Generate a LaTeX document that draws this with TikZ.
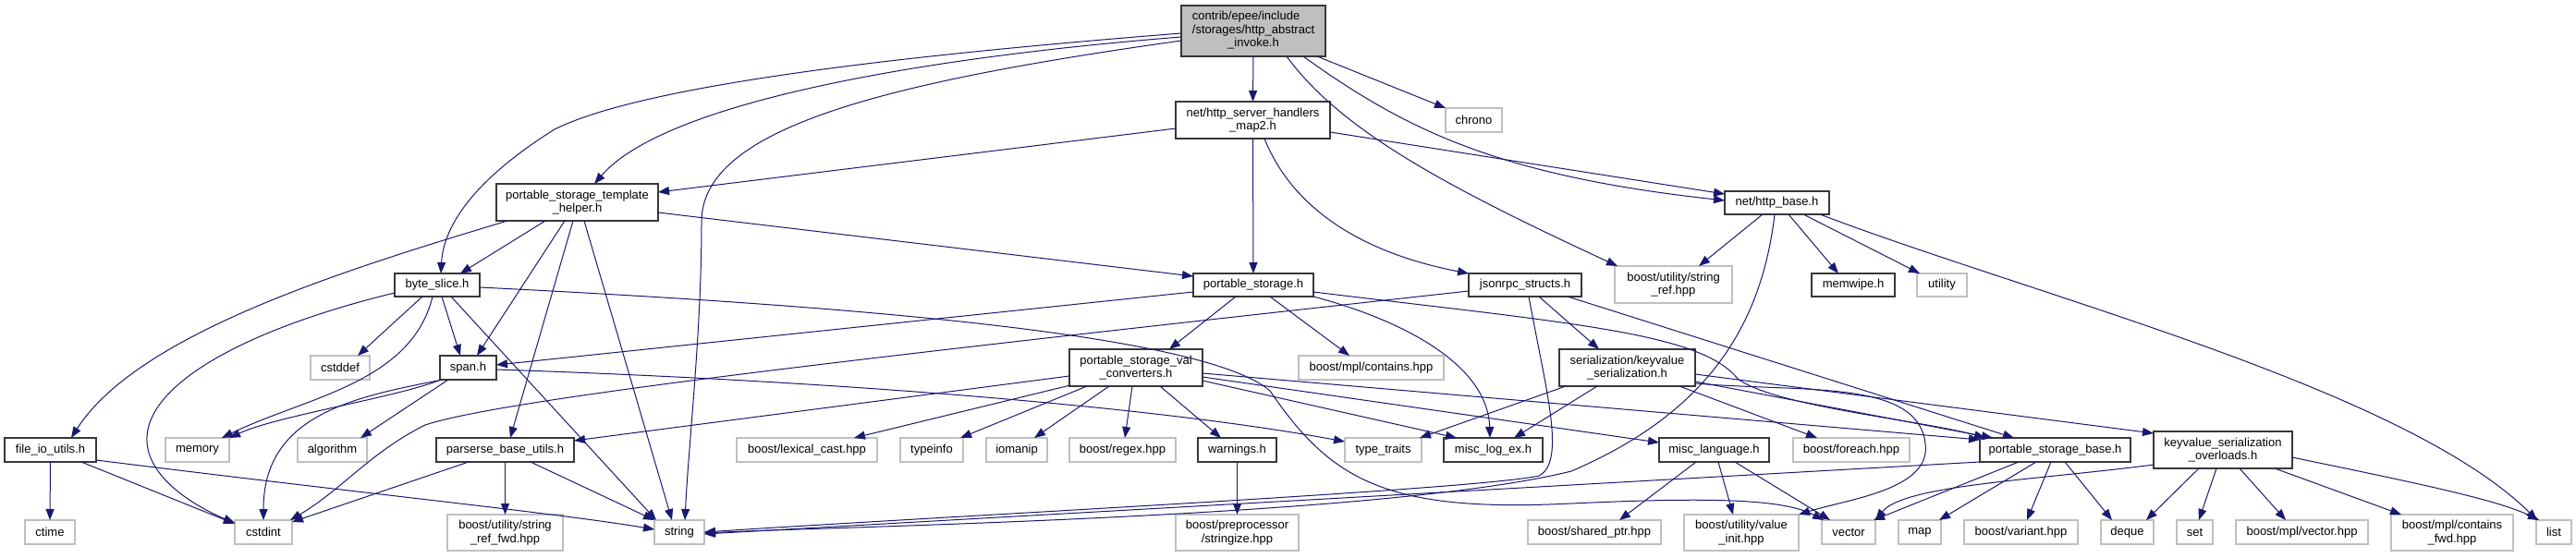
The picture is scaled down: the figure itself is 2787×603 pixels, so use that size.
\documentclass[tikz,border=0pt]{standalone}
\usepackage{fontspec}
\setmainfont{Liberation Sans}
\usetikzlibrary{arrows.meta,calc}
\definecolor{edgeblue}{HTML}{191970}
\definecolor{greyline}{HTML}{BFBFBF}
\definecolor{rootfill}{HTML}{BFBFBF}
\tikzset{
  lbl/.style={font=\fontsize{13}{14.5}\selectfont, inner sep=0pt, outer sep=0pt, align=center, rectangle},
  proj/.style={lbl, draw=black!78, fill=white, line width=1.5pt},
  sysh/.style={lbl, draw=greyline, fill=white, line width=1.3pt},
  rootbox/.style={lbl, draw=black!78, fill=rootfill, line width=1.5pt},
  dep/.style={draw=edgeblue, line width=1pt, -{Triangle[length=12pt,width=9pt]}},
}
\newcommand{\bxnode}[7]{%
  \pgfmathsetmacro{\bxcx}{(#2+#4)/2}\pgfmathsetmacro{\bxcy}{(#3+#5)/2}%
  \pgfmathsetmacro{\bxw}{#4-#2}\pgfmathsetmacro{\bxh}{#5-#3}%
  \node[#6, minimum width=\bxw pt, minimum height=\bxh pt] (#1) at (\bxcx,\bxcy) {#7};}
\begin{document}
\begin{tikzpicture}[x=1pt,y=-1pt]
\useasboundingbox[fill=white] (0,0) rectangle (2787,603);
% ---- nodes ----
\bxnode{root}{1278}{6}{1434}{61}{rootbox}{\begin{tabular}{@{}l@{}}contrib/epee/include\\/storages/http\_abstract\\\multicolumn{1}{@{}c@{}}{\_invoke.h}\end{tabular}}
\bxnode{handlers}{1272}{110}{1439}{150}{proj}{net/http\_server\_handlers\\\_map2.h}
\bxnode{chrono}{1564}{117}{1625}{143}{sysh}{chrono}
\bxnode{template}{537}{199}{712}{239}{proj}{portable\_storage\_template\\\_helper.h}
\bxnode{httpbase}{1866}{207}{1979}{232}{proj}{net/http\_base.h}
\bxnode{byteslice}{427}{296}{519}{321}{proj}{byte\_slice.h}
\bxnode{pstore}{1291}{296}{1421}{321}{proj}{portable\_storage.h}
\bxnode{jsonrpc}{1589}{296}{1711}{321}{proj}{jsonrpc\_structs.h}
\bxnode{stringref}{1747}{288}{1874}{328}{sysh}{boost/utility/string\\\_ref.hpp}
\bxnode{memwipe}{1960}{296}{2050}{321}{proj}{memwipe.h}
\bxnode{utility}{2074}{296}{2128}{321}{sysh}{utility}
\bxnode{cstddef}{336}{385}{400}{411}{sysh}{cstddef}
\bxnode{span}{476}{385}{537}{411}{proj}{span.h}
\bxnode{valconv}{1157}{378}{1301}{418}{proj}{portable\_storage\_val\\\_converters.h}
\bxnode{mplcontains}{1405}{385}{1562}{411}{sysh}{boost/mpl/contains.hpp}
\bxnode{kvser}{1687}{378}{1834}{418}{proj}{serialization/keyvalue\\\_serialization.h}
\bxnode{fileio}{5}{474}{104}{500}{proj}{file\_io\_utils.h}
\bxnode{memory}{179}{474}{248}{500}{sysh}{memory}
\bxnode{algorithm}{322}{474}{397}{500}{sysh}{algorithm}
\bxnode{parserse}{472}{474}{621}{500}{proj}{parserse\_base\_utils.h}
\bxnode{lexical}{797}{474}{949}{500}{sysh}{boost/lexical\_cast.hpp}
\bxnode{typeinfo}{974}{474}{1042}{500}{sysh}{typeinfo}
\bxnode{iomanip}{1067}{474}{1133}{500}{sysh}{iomanip}
\bxnode{regex}{1157}{474}{1272}{500}{sysh}{boost/regex.hpp}
\bxnode{warnings}{1296}{474}{1381}{500}{proj}{warnings.h}
\bxnode{typetraits}{1455}{474}{1538}{500}{sysh}{type\_traits}
\bxnode{misclog}{1562}{474}{1669}{500}{proj}{misc\_log\_ex.h}
\bxnode{misclang}{1795}{474}{1914}{500}{proj}{misc\_language.h}
\bxnode{foreach}{1940}{474}{2066}{500}{sysh}{boost/foreach.hpp}
\bxnode{psbase}{2142}{474}{2305}{500}{proj}{portable\_storage\_base.h}
\bxnode{kvover}{2330}{467}{2480}{507}{proj}{keyvalue\_serialization\\\_overloads.h}
\bxnode{ctime}{27}{563}{81}{589}{sysh}{ctime}
\bxnode{cstdint}{254}{563}{316}{589}{sysh}{cstdint}
\bxnode{reffwd}{484}{557}{609}{596}{sysh}{boost/utility/string\\\_ref\_fwd.hpp}
\bxnode{string}{708}{563}{762}{589}{sysh}{string}
\bxnode{stringize}{1272}{557}{1405}{596}{sysh}{boost/preprocessor\\/stringize.hpp}
\bxnode{sharedptr}{1653}{563}{1797}{589}{sysh}{boost/shared\_ptr.hpp}
\bxnode{valueinit}{1822}{557}{1946}{596}{sysh}{boost/utility/value\\\_init.hpp}
\bxnode{vector}{1971}{563}{2029}{589}{sysh}{vector}
\bxnode{map}{2054}{563}{2100}{589}{sysh}{map}
\bxnode{variant}{2125}{563}{2248}{589}{sysh}{boost/variant.hpp}
\bxnode{deque}{2273}{563}{2330}{589}{sysh}{deque}
\bxnode{set}{2355}{563}{2394}{589}{sysh}{set}
\bxnode{mplvector}{2419}{563}{2562}{589}{sysh}{boost/mpl/vector.hpp}
\bxnode{containsfwd}{2587}{557}{2719}{596}{sysh}{boost/mpl/contains\\\_fwd.hpp}
\bxnode{list}{2744}{563}{2782}{589}{sysh}{list}
% ---- edges: root ----
\draw[dep] (root.south) -- (handlers.north);
\draw[dep] ($(root.north west)+(147,55)$) -- (chrono.north west);
\draw[dep] ($(root.north west)+(0,34)$) .. controls (1000,62) and (720,110) .. ($(template.north west)+(106,0)$);
\draw[dep] ($(root.north west)+(0,30)$) .. controls (1000,58) and (700,90) .. (600,140) .. controls (520,190) and (480,240) .. ($(byteslice.north west)+(50,0)$);
\draw[dep] ($(root.north west)+(0,38)$) .. controls (950,90) and (759,140) .. (759,240) .. controls (759,360) and (745,480) .. ($(string.north west)+(33,0)$);
\draw[dep] ($(root.north west)+(132,55)$) .. controls (1520,140) and (1620,190) .. ($(httpbase.north west)+(0,10)$);
\draw[dep] ($(root.north west)+(114,55)$) .. controls (1450,140) and (1560,200) .. ($(stringref.north west)+(3,0)$);
% handlers
\draw[dep] ($(handlers.north west)+(0,29)$) -- ($(template.north west)+(175,9)$);
\draw[dep] (handlers.south) -- (pstore.north);
\draw[dep] ($(handlers.north west)+(96,40)$) .. controls (1400,230) and (1480,275) .. (jsonrpc.north west);
\draw[dep] ($(handlers.north west)+(167,33)$) -- ($(httpbase.north west)+(0,3)$);
% template helper
\draw[dep] ($(template.north west)+(12,40)$) .. controls (380,290) and (150,360) .. ($(fileio.north west)+(72,0)$);
\draw[dep] ($(template.north west)+(53,40)$) -- ($(byteslice.north west)+(71,0)$);
\draw[dep] ($(template.north west)+(74,40)$) -- ($(span.north west)+(40,0)$);
\draw[dep] ($(template.north west)+(83,40)$) -- ($(parserse.north west)+(80,0)$);
\draw[dep] ($(template.north west)+(95,40)$) -- ($(string.north west)+(19,0)$);
\draw[dep] ($(template.north west)+(175,31)$) -- ($(pstore.north west)+(0,3)$);
% byte_slice
\draw[dep] ($(byteslice.north west)+(30,25)$) -- ($(cstddef.north west)+(51,0)$);
\draw[dep] ($(byteslice.north west)+(51,25)$) -- ($(span.north west)+(22,0)$);
\draw[dep] ($(byteslice.north west)+(41,25)$) .. controls (445,415) and (330,430) .. ($(memory.north west)+(61,0)$);
\draw[dep] ($(byteslice.north west)+(0,21)$) .. controls (250,360) and (130,430) .. (165,500) .. controls (180,530) and (220,552) .. ($(cstdint.north west)+(0,3)$);
\draw[dep] ($(byteslice.north west)+(61,25)$) -- ($(string.north west)+(2,0)$);
\draw[dep] ($(byteslice.north west)+(92,15)$) .. controls (900,330) and (1300,360) .. (1374,423) .. controls (1440,520) and (1500,555) .. (1700,545) .. controls (1850,538) and (1930,540) .. ($(vector.north west)+(2,0)$);
% span
\draw[dep] ($(span.north west)+(1,26)$) .. controls (430,430) and (300,450) .. ($(memory.north west)+(69,0)$);
\draw[dep] ($(span.north west)+(3,26)$) .. controls (380,430) and (285,450) .. ($(cstdint.north west)+(31,0)$);
\draw[dep] ($(span.north west)+(9,26)$) -- ($(algorithm.north west)+(68,0)$);
\draw[dep] ($(span.north west)+(61,15)$) .. controls (900,412) and (1250,440) .. ($(typetraits.north west)+(0,4)$);
% file_io_utils
\draw[dep] (fileio.south) -- (ctime.north);
\draw[dep] ($(fileio.north west)+(83,26)$) -- ($(cstdint.north west)+(0,4)$);
\draw[dep] ($(fileio.north west)+(99,24)$) .. controls (400,535) and (600,555) .. ($(string.north west)+(0,10)$);
% parserse_base_utils
\draw[dep] ($(parserse.north west)+(35,26)$) -- ($(cstdint.north west)+(62,2)$);
\draw[dep] (parserse.south) -- (reffwd.north);
\draw[dep] ($(parserse.north west)+(102,26)$) -- ($(string.north west)+(0,0)$);
% portable_storage
\draw[dep] ($(pstore.north west)+(0,20)$) -- ($(span.north west)+(61,10)$);
\draw[dep] ($(pstore.north west)+(46,25)$) -- ($(valconv.north west)+(108,0)$);
\draw[dep] ($(pstore.north west)+(83,25)$) -- ($(mplcontains.north west)+(55,0)$);
\draw[dep] ($(pstore.north west)+(130,25)$) .. controls (1530,350) and (1610,400) .. ($(misclog.north west)+(50,0)$);
\draw[dep] ($(pstore.north west)+(130,20)$) .. controls (1700,350) and (1840,360) .. (1880,410) .. controls (1920,440) and (2080,455) .. ($(psbase.north west)+(6,0)$);
% jsonrpc_structs
\draw[dep] ($(jsonrpc.north west)+(0,19)$) .. controls (1000,380) and (550,430) .. (460,460) .. controls (400,490) and (370,530) .. ($(cstdint.north west)+(60,0)$);
\draw[dep] ($(jsonrpc.north west)+(65,25)$) .. controls (1672,420) and (1695,500) .. (1665,515) .. controls (1600,530) and (1000,560) .. ($(string.north west)+(54,13)$);
\draw[dep] ($(jsonrpc.north west)+(76,25)$) -- ($(kvser.north west)+(43,0)$);
\draw[dep] ($(jsonrpc.north west)+(107,25)$) -- ($(psbase.north west)+(37,0)$);
% keyvalue_serialization
\draw[dep] ($(kvser.north west)+(7,40)$) -- ($(typetraits.north west)+(81,0)$);
\draw[dep] ($(kvser.north west)+(41,40)$) -- ($(misclog.north west)+(76,0)$);
\draw[dep] ($(kvser.north west)+(130,40)$) -- ($(foreach.north west)+(26,0)$);
\draw[dep] ($(kvser.north west)+(147,27)$) -- ($(kvover.north west)+(0,2)$);
\draw[dep] ($(kvser.north west)+(147,35)$) -- ($(psbase.north west)+(14,0)$);
\draw[dep] ($(kvser.north west)+(147,37)$) .. controls (1950,425) and (2075,410) .. (2083,480) .. controls (2090,530) and (2000,540) .. ($(valueinit.north west)+(124,0)$);
% portable_storage_val_converters
\draw[dep] ($(valconv.north west)+(0,29)$) -- ($(parserse.north west)+(149,3)$);
\draw[dep] ($(valconv.north west)+(1,39)$) -- ($(lexical.north west)+(127,0)$);
\draw[dep] ($(valconv.north west)+(19,40)$) -- ($(typeinfo.north west)+(65,0)$);
\draw[dep] ($(valconv.north west)+(43,40)$) -- ($(iomanip.north west)+(52,0)$);
\draw[dep] ($(valconv.north west)+(68,40)$) -- ($(regex.north west)+(60,0)$);
\draw[dep] ($(valconv.north west)+(98,40)$) -- ($(warnings.north west)+(25,0)$);
\draw[dep] ($(valconv.north west)+(144,34)$) -- ($(misclog.north west)+(14,0)$);
\draw[dep] ($(valconv.north west)+(144,30)$) -- ($(misclang.north west)+(0,5)$);
\draw[dep] ($(valconv.north west)+(144,26)$) -- ($(psbase.north west)+(0,2)$);
% warnings
\draw[dep] (warnings.south) -- (stringize.north);
% misc_language
\draw[dep] ($(misclang.north west)+(40,26)$) -- ($(sharedptr.north west)+(99,0)$);
\draw[dep] ($(misclang.north west)+(64,26)$) -- ($(valueinit.north west)+(53,0)$);
\draw[dep] ($(misclang.north west)+(82,26)$) -- ($(vector.north west)+(9,0)$);
% portable_storage_base
\draw[dep] ($(psbase.north west)+(0,26)$) -- ($(string.north west)+(54,15)$);
\draw[dep] ($(psbase.north west)+(42,26)$) -- ($(vector.north west)+(56,0)$);
\draw[dep] ($(psbase.north west)+(61,26)$) -- ($(map.north west)+(44,0)$);
\draw[dep] ($(psbase.north west)+(77,26)$) -- ($(variant.north west)+(68,0)$);
\draw[dep] ($(psbase.north west)+(92,26)$) -- ($(deque.north west)+(12,0)$);
% keyvalue_serialization_overloads
\draw[dep] ($(kvover.north west)+(0,36)$) .. controls (2200,520) and (2060,525) .. ($(vector.north west)+(58,0)$);
\draw[dep] ($(kvover.north west)+(49,40)$) -- ($(deque.north west)+(49,0)$);
\draw[dep] ($(kvover.north west)+(68,40)$) -- ($(set.north west)+(24,0)$);
\draw[dep] ($(kvover.north west)+(93,40)$) -- ($(mplvector.north west)+(54,0)$);
\draw[dep] ($(kvover.north west)+(131,40)$) -- ($(containsfwd.north west)+(11,0)$);
\draw[dep] ($(kvover.north west)+(150,28)$) .. controls (2600,520) and (2700,540) .. ($(list.north west)+(3,0)$);
% net/http_base
\draw[dep] ($(httpbase.north west)+(41,25)$) -- ($(stringref.north west)+(91,0)$);
\draw[dep] ($(httpbase.north west)+(54,25)$) .. controls (1905,360) and (1840,450) .. (1700,510) .. controls (1500,560) and (900,570) .. ($(string.north west)+(54,14)$);
\draw[dep] ($(httpbase.north west)+(69,25)$) -- ($(memwipe.north west)+(29,0)$);
\draw[dep] ($(httpbase.north west)+(85,25)$) -- ($(utility.north west)+(3,0)$);
\draw[dep] ($(httpbase.north west)+(103,25)$) .. controls (2200,320) and (2600,420) .. ($(list.north west)+(1,0)$);
\end{tikzpicture}
\end{document}
